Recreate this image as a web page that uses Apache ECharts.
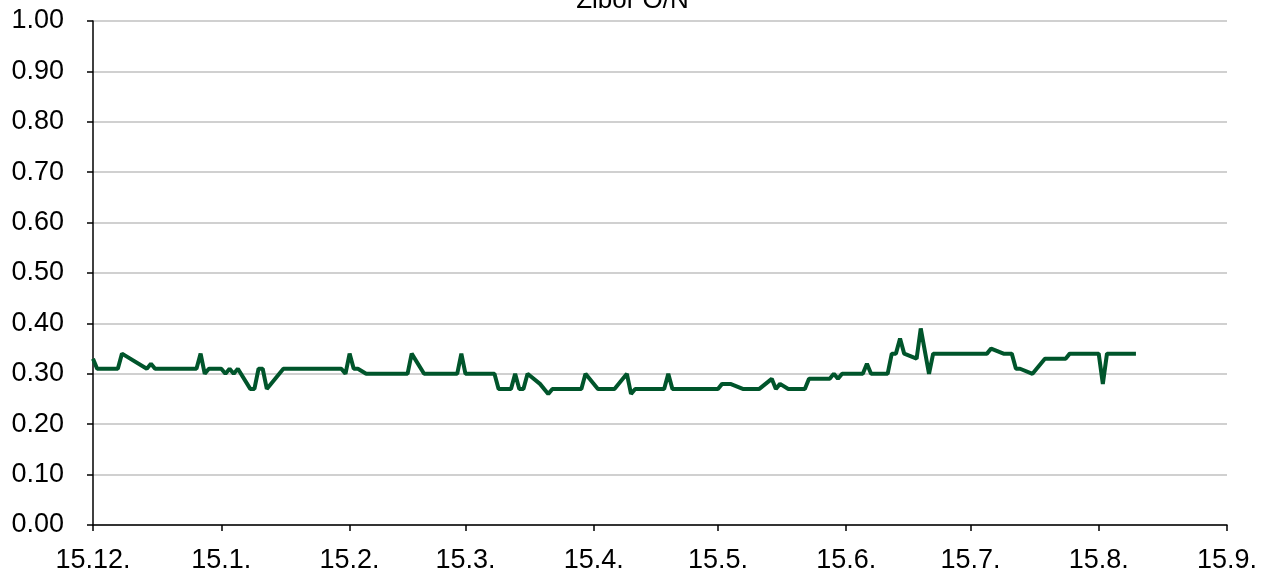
<!DOCTYPE html>
<html>
<head>
<meta charset="utf-8">
<title>Zibor O/N</title>
<script src="https://cdn.jsdelivr.net/npm/echarts@6/dist/echarts.min.js"></script>
<style>
  html, body { margin: 0; padding: 0; background: #fff; }
  #chart { width: 1265px; height: 575px; }
</style>
</head>
<body>
<div id="chart"></div>
<script>
  const dates = [
    '2014-12-15', '2014-12-16', '2014-12-21', '2014-12-22', '2014-12-28', '2014-12-29', '2014-12-30',
    '2015-01-09', '2015-01-10', '2015-01-11', '2015-01-12', '2015-01-15', '2015-01-16', '2015-01-17',
    '2015-01-18', '2015-01-19', '2015-01-22', '2015-01-23', '2015-01-24', '2015-01-25', '2015-01-26',
    '2015-01-30', '2015-02-13', '2015-02-14', '2015-02-15', '2015-02-16', '2015-02-17', '2015-02-19',
    '2015-03-01', '2015-03-02', '2015-03-05', '2015-03-13', '2015-03-14', '2015-03-15', '2015-03-22',
    '2015-03-23', '2015-03-26', '2015-03-27', '2015-03-28', '2015-03-29', '2015-03-30', '2015-04-02',
    '2015-04-04', '2015-04-05', '2015-04-12', '2015-04-13', '2015-04-16', '2015-04-20', '2015-04-23',
    '2015-04-24', '2015-04-25', '2015-05-02', '2015-05-03', '2015-05-04', '2015-05-15', '2015-05-16',
    '2015-05-18', '2015-05-21', '2015-05-25', '2015-05-28', '2015-05-29', '2015-05-30', '2015-06-01',
    '2015-06-05', '2015-06-06', '2015-06-11', '2015-06-12', '2015-06-13', '2015-06-14', '2015-06-19',
    '2015-06-20', '2015-06-21', '2015-06-25', '2015-06-26', '2015-06-27', '2015-06-28', '2015-06-29',
    '2015-07-02', '2015-07-03', '2015-07-05', '2015-07-06', '2015-07-19', '2015-07-20', '2015-07-23',
    '2015-07-25', '2015-07-26', '2015-07-27', '2015-07-30', '2015-08-02', '2015-08-07', '2015-08-08',
    '2015-08-15', '2015-08-16', '2015-08-17', '2015-08-24'
  ];
  const rates = [
    0.33, 0.31, 0.31, 0.34, 0.31, 0.32, 0.31,
    0.31, 0.34, 0.30, 0.31, 0.31, 0.30, 0.31,
    0.30, 0.31, 0.27, 0.27, 0.31, 0.31, 0.27,
    0.31, 0.31, 0.30, 0.34, 0.31, 0.31, 0.30,
    0.30, 0.34, 0.30, 0.30, 0.34, 0.30, 0.30,
    0.27, 0.27, 0.30, 0.27, 0.27, 0.30, 0.28,
    0.26, 0.27, 0.27, 0.30, 0.27, 0.27, 0.30,
    0.26, 0.27, 0.27, 0.30, 0.27, 0.27, 0.28,
    0.28, 0.27, 0.27, 0.29, 0.27, 0.28, 0.27,
    0.27, 0.29, 0.29, 0.30, 0.29, 0.30, 0.30,
    0.32, 0.30, 0.30, 0.34, 0.34, 0.37, 0.34,
    0.33, 0.39, 0.30, 0.34, 0.34, 0.35, 0.34,
    0.34, 0.31, 0.31, 0.30, 0.33, 0.33, 0.34,
    0.34, 0.28, 0.34, 0.34
  ];

  // x axis ticks: the 15th of every month
  const tickDates = [
    '2014-12-15', '2015-01-15', '2015-02-15', '2015-03-15', '2015-04-15',
    '2015-05-15', '2015-06-15', '2015-07-15', '2015-08-15', '2015-09-15'
  ];
  const tickLabels = ['15.12.', '15.1.', '15.2.', '15.3.', '15.4.', '15.5.', '15.6.', '15.7.', '15.8.', '15.9.'];

  // dates as day numbers (UTC, so no daylight saving shifts)
  function dayNum(s) {
    const p = s.split('-').map(Number);
    return Date.UTC(p[0], p[1] - 1, p[2]) / 86400000;
  }

  const tickValues = tickDates.map(dayNum);
  const labelByDay = {};
  tickValues.forEach((t, i) => { labelByDay[t] = tickLabels[i]; });

  const font = 'Liberation Sans, Arial, sans-serif';

  let myChart = echarts.init(document.getElementById('chart'));
  myChart.setOption({
    animation: false,
    title: {
      text: 'Zibor O/N',
      left: 'center',
      top: -17,
      textStyle: { fontFamily: font, fontSize: 26, fontWeight: 'normal', color: '#000' }
    },
    grid: { left: 93, right: 38, top: 21, bottom: 50, containLabel: false },
    xAxis: {
      type: 'value',
      min: tickValues[0],
      max: tickValues[tickValues.length - 1],
      axisLine: { onZero: false, lineStyle: { color: '#000', width: 1.5 } },
      axisTick: { show: true, length: 6, customValues: tickValues, lineStyle: { color: '#000', width: 1.5 } },
      splitLine: { show: false },
      axisLabel: {
        customValues: tickValues,
        margin: 22,
        fontFamily: font,
        fontSize: 27,
        color: '#000',
        formatter: v => labelByDay[v] || ''
      }
    },
    yAxis: {
      type: 'value',
      min: 0,
      max: 1,
      interval: 0.1,
      axisLine: { show: true, lineStyle: { color: '#000', width: 1.5 } },
      axisTick: { show: true, length: 6, lineStyle: { color: '#000', width: 1.5 } },
      splitLine: { show: true, lineStyle: { color: '#c0c0c0', width: 1.5 } },
      axisLabel: {
        margin: 29,
        fontFamily: font,
        fontSize: 27,
        color: '#000',
        formatter: v => v.toFixed(2)
      }
    },
    series: [{
      name: 'Zibor O/N',
      type: 'line',
      data: dates.map((d, i) => [dayNum(d), rates[i]]),
      showSymbol: false,
      symbol: 'none',
      lineStyle: { color: '#00552b', width: 4 },
      itemStyle: { color: '#00552b' }
    }]
  });
</script>
</body>
</html>
